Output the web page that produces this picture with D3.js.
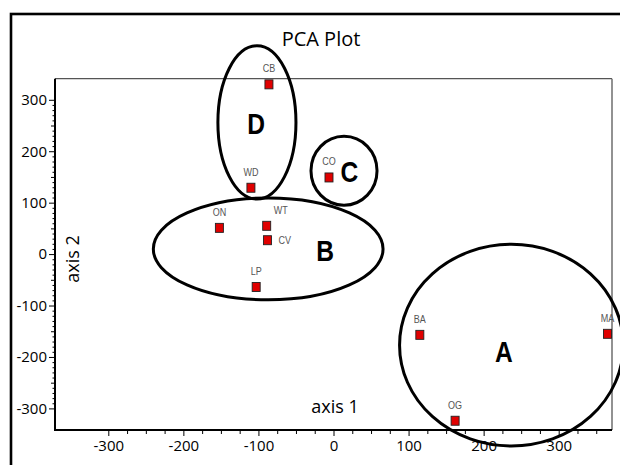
<!DOCTYPE html>
<html>
<head>
<meta charset="utf-8">
<script src="https://cdn.jsdelivr.net/npm/d3@7"></script>
<style>
  html, body { margin: 0; padding: 0; background: #fff; }
  svg { display: block; }
</style>
</head>
<body>
<svg id="chart" width="620" height="465"></svg>
<script>
// ---- data ----
const samples = ["CB", "WD", "CO", "ON", "WT", "CV", "LP", "BA", "MA", "OG"];
const axis1   = [-86, -110, -6, -152, -89, -88, -103, 115, 365, 162];
const axis2   = [330, 129, 149, 51, 55, 27, -64, -157, -155, -324];

const clusters  = ["A", "B", "C", "D"];
const clusterCx = [237, -87, 14, -102];
const clusterCy = [-177, 10, 162, 256];
const clusterRx = [149, 153, 44, 52];
const clusterRy = [196, 99, 67, 149];
const letterX   = [227, -11, 21, -103];
const letterY   = [-209, -14, 140, 234];

const xMajor = [-300, -200, -100, 0, 100, 200, 300];
const yMajor = [-300, -200, -100, 0, 100, 200, 300];

// ---- layout ----
const svg = d3.select("#chart");
const x = d3.scaleLinear().domain([-371, 371]).range([55, 612]);
const y = d3.scaleLinear().domain([-342, 341]).range([430, 78.7]);
const tickFont = "'Open Sans', sans-serif";
const fmt = d => String(d);

// outer frame
svg.append("rect")
  .attr("x", 11).attr("y", 14).attr("width", 640).attr("height", 480)
  .attr("fill", "none").attr("stroke", "#000").attr("stroke-width", 2.6);

// title
svg.append("text")
  .attr("x", 321).attr("y", 46).attr("text-anchor", "middle")
  .attr("font-family", tickFont).attr("font-size", 20).attr("fill", "#000")
  .text("PCA Plot");

// plot box: top/right gray, left/bottom black
svg.append("line").attr("x1", x.range()[0]).attr("x2", x.range()[1])
  .attr("y1", y.range()[1]).attr("y2", y.range()[1])
  .attr("stroke", "#555").attr("stroke-width", 1.3);
svg.append("line").attr("x1", x.range()[1]).attr("x2", x.range()[1])
  .attr("y1", y.range()[1]).attr("y2", y.range()[0])
  .attr("stroke", "#777").attr("stroke-width", 1.6);

// minor ticks
const xMinor = d3.range(-300, 351, 25).filter(v => !xMajor.includes(v));
const yMinor = d3.range(-300, 301, 10).filter(v => !yMajor.includes(v));

const gx = svg.append("g").attr("transform", `translate(0,${y.range()[0]})`);
gx.append("g").call(d3.axisBottom(x).tickValues(xMinor).tickSize(4).tickFormat(""))
  .call(g => g.select(".domain").remove());
gx.append("g").call(d3.axisBottom(x).tickValues(xMajor).tickSize(6).tickPadding(4).tickFormat(fmt))
  .call(g => g.select(".domain").remove())
  .call(g => g.selectAll("text").attr("font-family", tickFont).attr("font-size", 15).attr("fill", "#000"));

const gy = svg.append("g").attr("transform", `translate(${x.range()[0]},0)`);
gy.append("g").call(d3.axisLeft(y).tickValues(yMinor.filter(v => v % 50 !== 0)).tickSize(2.5).tickFormat(""))
  .call(g => g.select(".domain").remove());
gy.append("g").call(d3.axisLeft(y).tickValues(yMinor.filter(v => v % 50 === 0)).tickSize(4).tickFormat(""))
  .call(g => g.select(".domain").remove());
gy.append("g").call(d3.axisLeft(y).tickValues(yMajor).tickSize(6).tickPadding(2).tickFormat(fmt))
  .call(g => g.select(".domain").remove())
  .call(g => g.selectAll("text").attr("font-family", tickFont).attr("font-size", 15).attr("fill", "#000"));
svg.selectAll(".tick line").attr("stroke", "#000");

// axis lines
svg.append("line").attr("x1", x.range()[0]).attr("x2", x.range()[1])
  .attr("y1", y.range()[0]).attr("y2", y.range()[0])
  .attr("stroke", "#000").attr("stroke-width", 2);
svg.append("line").attr("x1", x.range()[0]).attr("x2", x.range()[0])
  .attr("y1", y.range()[1]).attr("y2", y.range()[0] + 1)
  .attr("stroke", "#000").attr("stroke-width", 2);

// axis titles (inside plot)
svg.append("text")
  .attr("x", 335).attr("y", 413).attr("text-anchor", "middle")
  .attr("font-family", tickFont).attr("font-size", 18).attr("fill", "#000")
  .text("axis 1");
svg.append("text")
  .attr("transform", "translate(79,259) rotate(-90)").attr("text-anchor", "middle")
  .attr("font-family", tickFont).attr("font-size", 18).attr("fill", "#000")
  .text("axis 2");

// sample markers
const pts = samples.map((s, i) => ({ name: s, a1: axis1[i], a2: axis2[i] }));
svg.append("g").selectAll("rect").data(pts).join("rect")
  .attr("x", d => x(d.a1) - 4).attr("y", d => y(d.a2) - 4.5)
  .attr("width", 8).attr("height", 9)
  .attr("fill", "#e00000").attr("stroke", "#222").attr("stroke-width", 0.9);

// sample labels (narrow sans)
const labelPlace = { CV: "right", WT: "topright" };
const narrowFont = "'Liberation Sans', Arial, sans-serif";
svg.append("g").selectAll("text").data(pts).join("text")
  .attr("transform", d => {
    const p = labelPlace[d.name];
    let lx = x(d.a1), ly = y(d.a2) - 12;
    if (p === "right") { lx = x(d.a1) + 11; ly = y(d.a2) + 4; }
    if (p === "topright") { lx = x(d.a1) + 14; }
    return `translate(${lx},${ly}) scale(0.82,1)`;
  })
  .attr("text-anchor", d => labelPlace[d.name] === "right" ? "start" : "middle")
  .attr("font-family", narrowFont).attr("font-size", 11).attr("fill", "#555")
  .text(d => d.name);

// cluster ellipses
const cl = clusters.map((c, i) => ({
  name: c, cx: clusterCx[i], cy: clusterCy[i], rx: clusterRx[i], ry: clusterRy[i],
  lx: letterX[i], ly: letterY[i]
}));
svg.append("g").selectAll("ellipse").data(cl).join("ellipse")
  .attr("cx", d => x(d.cx)).attr("cy", d => y(d.cy))
  .attr("rx", d => x(d.cx + d.rx) - x(d.cx))
  .attr("ry", d => y(d.cy) - y(d.cy + d.ry))
  .attr("fill", "none").attr("stroke", "#000").attr("stroke-width", 3);

svg.append("g").selectAll("text").data(cl).join("text")
  .attr("transform", d => `translate(${x(d.lx)},${y(d.ly)}) scale(0.82,1)`)
  .attr("text-anchor", "middle")
  .attr("font-family", narrowFont).attr("font-weight", "bold").attr("font-size", 30).attr("fill", "#000")
  .text(d => d.name);
</script>
</body>
</html>
